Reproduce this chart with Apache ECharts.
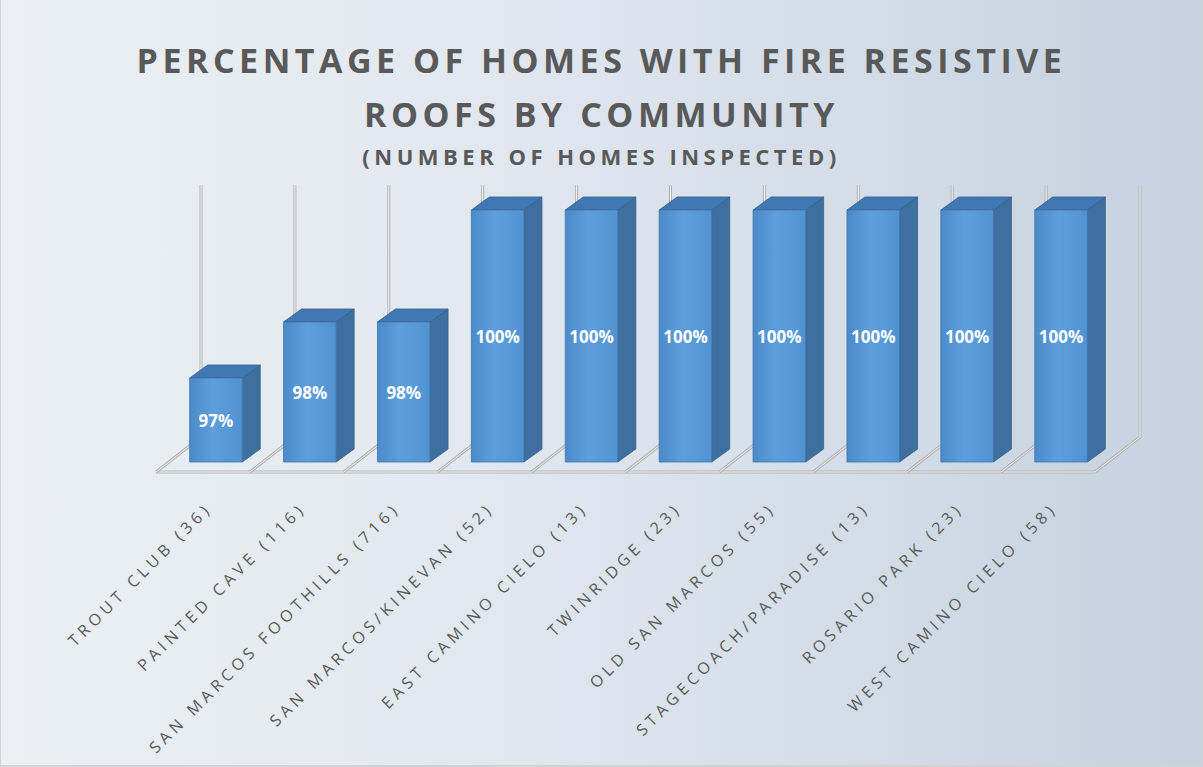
<!DOCTYPE html>
<html>
<head>
<meta charset="UTF-8">
<title>Fire resistive roofs by community</title>
<script src="https://cdn.jsdelivr.net/npm/echarts@6/dist/echarts.min.js"></script>
<style>
	body { margin: 0; }
	#container {
		width: 1203px; height: 767px; box-sizing: border-box;
		border-left: 1px solid #d2d2d2; border-right: 1px solid #d2d2d2; border-bottom: 2px solid #d2d2d2;
		background: linear-gradient(to right, #ecf0f5 0%, #e2e8f0 40%, #c6d2e0 100%);
	}
	/* spaced-out lettering like the original */
	#container text[style*="34px"] { letter-spacing: 4.5px; }
	#container text[style*="22px"] { letter-spacing: 4.5px; }
	#container text[style*="16px"] { letter-spacing: 4.5px; }
</style>
</head>
<body>
	<div id="container"></div>
	<script type="text/javascript">

	var communities = ['TROUT CLUB (36)', 'PAINTED CAVE (116)', 'SAN MARCOS FOOTHILLS (716)',
		'SAN MARCOS/KINEVAN (52)', 'EAST CAMINO CIELO (13)', 'TWINRIDGE (23)', 'OLD SAN MARCOS (55)',
		'STAGECOACH/PARADISE (13)', 'ROSARIO PARK (23)', 'WEST CAMINO CIELO (58)'];
	var pctFireResistive = [97, 98, 98, 100, 100, 100, 100, 100, 100, 100];
	var axisMin = 95.5, axisMax = 100;

	var dom = document.getElementById("container");
	var myChart = echarts.init(dom, null, { renderer: 'svg' });

	var barData = [];
	var floorData = [];
	for (var i = 0; i < communities.length; i++) {
		barData.push([i, pctFireResistive[i]]);
		floorData.push([i, axisMax]);
	}

	// fake 3d offsets (px)
	var depthX = 18, depthY = -13;          // bar depth
	var frontX = -13, frontY = 10;          // floor front edge vs bar face
	var backX = 32, backY = -25;            // back wall vs bar face

	function tube(pts) {
		return [
			{ type: 'polyline', shape: { points: pts }, style: { stroke: '#b4b4b4', lineWidth: 3, fill: null } },
			{ type: 'polyline', shape: { points: pts }, style: { stroke: '#f4f4f4', lineWidth: 1, fill: null } }
		];
	}

	function renderFloor(params, api) {
		var idx = api.value(0);
		var base = api.coord([idx, axisMin]);
		var topY = api.coord([idx, axisMax])[1];
		var band = api.size([1, 0])[0];
		var left = base[0] - band / 2, right = base[0] + band / 2;
		var children = [];
		children = children.concat(tube([[left + frontX, base[1] + frontY], [right + frontX, base[1] + frontY]]));
		var bounds = [left];
		if (idx === communities.length - 1) bounds.push(right);
		bounds.forEach(function (x) {
			children = children.concat(tube([[x + frontX, base[1] + frontY], [x + backX, base[1] + backY], [x + backX, topY + backY]]));
		});
		return { type: 'group', children: children };
	}

	function renderBar(params, api) {
		var idx = api.value(0), val = api.value(1);
		var top = api.coord([idx, val]);
		var base = api.coord([idx, axisMin]);
		var band = api.size([1, 0])[0];
		var w = band * 0.56;
		var xl = top[0] - w / 2, xr = top[0] + w / 2, yt = top[1], yb = base[1];
		return {
			type: 'group',
			children: [
				{ type: 'polygon', shape: { points: [[xr, yt], [xr + depthX, yt + depthY], [xr + depthX, yb + depthY], [xr, yb]] },
				  style: { fill: '#3e6f9f', stroke: '#355f89', lineWidth: 0.8 } },
				{ type: 'polygon', shape: { points: [[xl, yt], [xl + depthX, yt + depthY], [xr + depthX, yt + depthY], [xr, yt]] },
				  style: { fill: '#3f78b2', stroke: '#355f89', lineWidth: 0.8 } },
				{ type: 'rect', shape: { x: xl, y: yt, width: w, height: yb - yt },
				  style: {
					fill: new echarts.graphic.LinearGradient(0, 0, 1, 0, [
						{ offset: 0, color: '#4c8bca' },
						{ offset: 0.45, color: '#5d9edc' },
						{ offset: 1, color: '#5192d2' }
					]),
					stroke: '#3f74a8', lineWidth: 0.8
				  } },
				{ type: 'text', x: top[0], y: (yt + yb) / 2,
				  style: { text: val + '%', fill: '#ffffff', font: 'bold 17px "Open Sans"', align: 'center', verticalAlign: 'middle' } }
			]
		};
	}

	var titleStyle = { color: '#595959', fontFamily: 'Open Sans', fontWeight: 'bold', fontSize: 34 };

	var option = {
		animation: false,
		backgroundColor: 'transparent',
		title: [
			{ text: 'PERCENTAGE OF HOMES WITH FIRE RESISTIVE', left: 'center', top: 38, textStyle: titleStyle },
			{ text: 'ROOFS BY COMMUNITY', left: 'center', top: 92, textStyle: titleStyle },
			{ text: '(NUMBER OF HOMES INSPECTED)', left: 'center', top: 140,
			  textStyle: { color: '#595959', fontFamily: 'Open Sans', fontWeight: 'bold', fontSize: 22 } }
		],
		grid: { left: 168, right: 94, top: 210, bottom: 303 },
		xAxis: {
			type: 'category',
			data: communities,
			axisLine: { show: false },
			axisTick: { show: false },
			axisLabel: { interval: 0, rotate: 45, margin: 36, padding: [0, 10, 0, 0],
				color: '#595959', fontFamily: 'Open Sans', fontSize: 16 }
		},
		yAxis: { type: 'value', min: axisMin, max: axisMax, show: false, splitLine: { show: false } },
		series: [
			{ type: 'custom', renderItem: renderFloor, data: floorData, silent: true },
			{ type: 'custom', renderItem: renderBar, data: barData }
		]
	};

	myChart.setOption(option, true);
	</script>
</body>
</html>
